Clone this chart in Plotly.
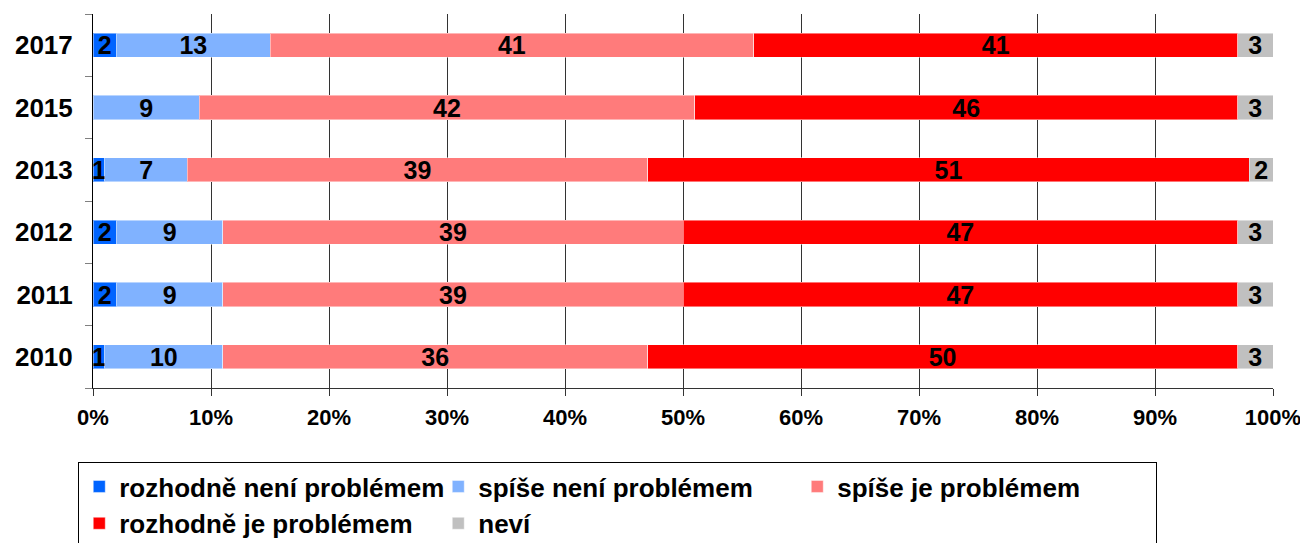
import plotly.graph_objects as go

years = ["2010", "2011", "2012", "2013", "2015", "2017"]
rozhodne_neni = [1, 2, 2, 1, 0, 2]
spise_neni = [10, 9, 9, 7, 9, 13]
spise_je = [36, 39, 39, 39, 42, 41]
rozhodne_je = [50, 47, 47, 51, 46, 41]
nevi = [3, 3, 3, 2, 3, 3]

series = [
    ("rozhodně není problémem", rozhodne_neni, "#0064FF"),
    ("spíše není problémem", spise_neni, "#80B2FF"),
    ("spíše je problémem", spise_je, "#FF7B7B"),
    ("rozhodně je problémem", rozhodne_je, "#FF0000"),
    ("neví", nevi, "#C0C0C0"),
]

FONT = "Arial, 'Liberation Sans', sans-serif"

fig = go.Figure()
for name, vals, col in series:
    fig.add_trace(go.Bar(
        y=years, x=vals, name=name, orientation="h",
        marker=dict(color=col, line=dict(width=1, color="rgba(255,255,255,0.45)")),
        text=[str(v) if v > 0 else "" for v in vals],
        textposition="inside", insidetextanchor="middle",
        constraintext="none", textangle=0,
        textfont=dict(family=FONT, size=25, color="black", weight="bold"),
        hoverinfo="skip",
    ))

# page body has an 8px default margin, so the figure is sized to fill the rest
fig.update_layout(
    barmode="stack",
    bargap=0.61,
    width=1300, height=535,
    margin=dict(l=85, r=35, t=6, b=155, autoexpand=False),
    plot_bgcolor="white", paper_bgcolor="white",
    font=dict(family=FONT, color="black"),
    showlegend=True,
    legend=dict(
        orientation="h",
        x=-0.0125, xanchor="left",
        y=-0.198, yanchor="top",
        bordercolor="black", borderwidth=1,
        entrywidth=314, entrywidthmode="pixels",
        traceorder="normal",
        font=dict(family=FONT, size=26, color="black", weight="bold"),
        itemclick=False, itemdoubleclick=False,
    ),
    xaxis=dict(
        range=[0, 100], dtick=10, tick0=0, ticksuffix="%",
        showgrid=True, gridcolor="#333333", gridwidth=1,
        zeroline=False,
        showline=True, linecolor="#333333", linewidth=1,
        ticks="outside", ticklen=7, tickcolor="#333333",
        ticklabelstandoff=3,
        tickfont=dict(family=FONT, size=22, color="black", weight="bold"),
        fixedrange=True,
    ),
    yaxis=dict(
        type="category", categoryorder="array", categoryarray=years,
        showgrid=False, zeroline=False,
        showline=True, linecolor="black", linewidth=1,
        ticks="outside", ticklen=7, tickcolor="#808080",
        tickson="boundaries",
        ticklabelstandoff=14,
        tickfont=dict(family=FONT, size=26, color="black", weight="bold"),
        fixedrange=True,
    ),
)

fig.write_html("out.html", config={"displayModeBar": False})
